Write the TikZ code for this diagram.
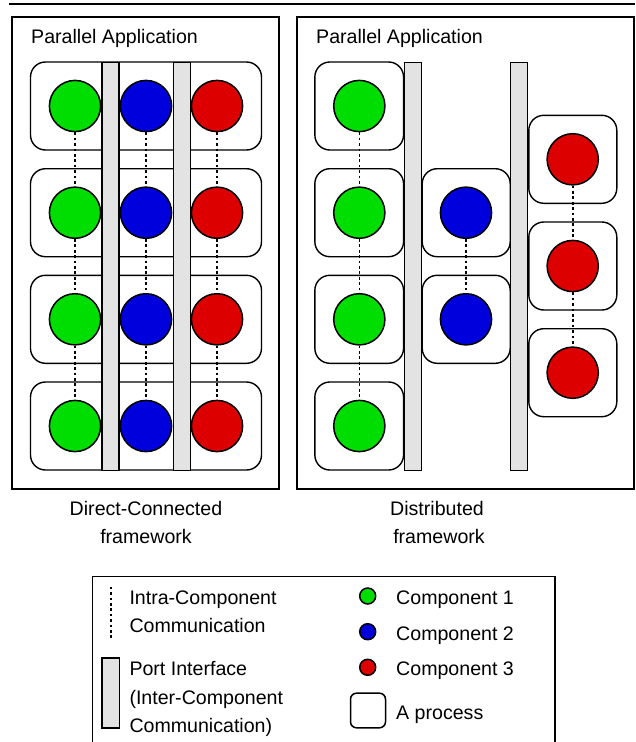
\documentclass[tikz,border=0pt]{standalone}
\usepackage{fontspec}
\setmainfont{Liberation Sans}
\definecolor{cgreen}{RGB}{0,221,0}
\definecolor{cblue}{RGB}{0,0,221}
\definecolor{cred}{RGB}{221,0,0}
\definecolor{portgray}{RGB}{227,227,227}
\begin{document}
\begin{tikzpicture}[x=1pt,y=-1pt,
  every node/.style={font=\fontsize{19.6}{24}\selectfont},
  panel/.style={draw, line width=1.5pt},
  proc/.style={draw, line width=1.4pt, fill=white, rounded corners=15pt, inner sep=0pt},
  comp/.style={circle, draw, line width=1.5pt, minimum size=51.2pt, inner sep=0pt},
  port/.style={draw, line width=1.4pt, fill=portgray, inner sep=0pt},
  intra/.style={line width=1.6pt, dash pattern=on 2.7pt off 2.7pt},
  txt/.style={anchor=base west, inner sep=0pt},
  ctxt/.style={anchor=base, inner sep=0pt}]
\useasboundingbox (0,0) rectangle (635,742);
% top rule
\draw[line width=1.9pt] (9,4.2) -- (635,4.2);
% panels
\node[panel, inner sep=0pt, minimum width=267pt, minimum height=472pt] (panelL) at (145.7,253) {};
\node[panel, inner sep=0pt, minimum width=337pt, minimum height=472pt] (panelR) at (465.5,253) {};
\node[txt] (titleL) at (31,43) {Parallel Application};
\node[txt] (titleR) at (316,43) {Parallel Application};
% ---------- left panel ----------
\foreach \i/\y in {1/106,2/212.7,3/319.3,4/426}{
  \node[proc, minimum width=231pt, minimum height=88pt] (pL\i) at (146,\y) {};
}
\node[port, minimum width=17pt, minimum height=408pt] (barL1) at (110.5,266.3) {};
\node[port, minimum width=17pt, minimum height=408pt] (barL2) at (181.7,266.3) {};
\foreach \i/\y in {1/106,2/212.7,3/319.3,4/426}{
  \node[comp, fill=cgreen] (gL\i) at (75,\y) {};
  \node[comp, fill=cblue] (bL\i) at (146,\y) {};
  \node[comp, fill=cred] (rL\i) at (217,\y) {};
}
\foreach \a/\b in {1/2,2/3,3/4}{
  \draw[intra] (gL\a) -- (gL\b);
  \draw[intra] (bL\a) -- (bL\b);
  \draw[intra] (rL\a) -- (rL\b);
}
% ---------- right panel ----------
\foreach \i/\y in {1/106,2/212.7,3/319.3,4/426}{
  \node[proc, minimum width=88.7pt, minimum height=88pt] (pG\i) at (359.2,\y) {};
  \node[comp, fill=cgreen] (gR\i) at (359.3,\y) {};
}
\foreach \i/\y in {1/212.7,2/319.3}{
  \node[proc, minimum width=88pt, minimum height=88pt] (pB\i) at (466.2,\y) {};
  \node[comp, fill=cblue] (bR\i) at (466,\y) {};
}
\foreach \i/\y in {1/159.3,2/266,3/372.7}{
  \node[proc, minimum width=88pt, minimum height=88pt] (pR\i) at (572.8,\y) {};
  \node[comp, fill=cred] (rR\i) at (572.7,\y) {};
}
\node[port, minimum width=17pt, minimum height=408pt] (barR1) at (412.8,266.3) {};
\node[port, minimum width=17pt, minimum height=408pt] (barR2) at (519.2,266.3) {};
\foreach \a/\b in {1/2,2/3,3/4}{
  \draw[intra] (gR\a) -- (gR\b);
}
\draw[intra] (bR1) -- (bR2);
\draw[intra] (rR1) -- (rR2);
\draw[intra] (rR2) -- (rR3);
% captions
\node[ctxt] (capL1) at (146,515) {Direct-Connected};
\node[ctxt] (capL2) at (146,543) {framework};
\node[ctxt] (capR1) at (437,515) {Distributed};
\node[ctxt] (capR2) at (439,543) {framework};
% ---------- legend ----------
\draw[line width=1.5pt] (92.7,745) -- (92.7,576.7) -- (555,576.7) -- (555,745);
\coordinate (dotA) at (110.7,586.7);
\coordinate (dotB) at (110.7,639.3);
\draw[intra] (dotA) -- (dotB);
\node[txt] (lg1a) at (129.3,604) {Intra-Component};
\node[txt] (lg1b) at (129.3,632.7) {Communication};
\node[port, minimum width=17.5pt, minimum height=70pt] (lgport) at (110.8,692.8) {};
\node[txt] (lg2a) at (129.3,675) {Port Interface};
\node[txt] (lg2b) at (129.3,704) {(Inter-Component};
\node[txt] (lg2c) at (129.3,732.5) {Communication)};
\node[circle, draw, line width=1.5pt, minimum size=16pt, inner sep=0pt, fill=cgreen] (lgc1) at (367.7,596) {};
\node[circle, draw, line width=1.5pt, minimum size=16pt, inner sep=0pt, fill=cblue] (lgc2) at (367.7,631.7) {};
\node[circle, draw, line width=1.5pt, minimum size=16pt, inner sep=0pt, fill=cred] (lgc3) at (367.7,667.3) {};
\node[txt] (lgt1) at (396,604) {Component 1};
\node[txt] (lgt2) at (396,640) {Component 2};
\node[txt] (lgt3) at (396,675) {Component 3};
\node[draw, line width=1.5pt, rounded corners=6pt, inner sep=0pt, minimum width=35pt, minimum height=34.6pt] (lgproc) at (368,710.5) {};
\node[txt] (lgt4) at (396,719.3) {A process};
\end{tikzpicture}
\end{document}
